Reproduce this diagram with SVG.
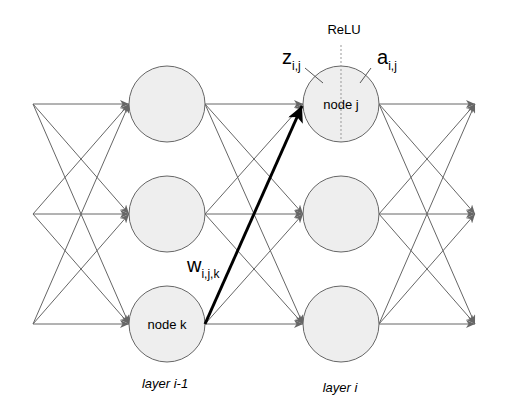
<svg xmlns="http://www.w3.org/2000/svg" width="509" height="413" viewBox="0 0 509 413">
<style>
.n{fill:#eeeeee;stroke:#666666;stroke-width:1}
.e{stroke:#666666;stroke-width:1;fill:none;marker-end:url(#ah)}
.t{font-family:"Liberation Sans",Arial,sans-serif;fill:#000}
</style>
<defs>
<marker id="ah" markerUnits="userSpaceOnUse" markerWidth="10" markerHeight="8" refX="9" refY="4" orient="auto">
<path d="M0,0 L9,4 L0,8 L2.5,4 Z" fill="#666666"/>
</marker>
<marker id="ahb" markerUnits="userSpaceOnUse" markerWidth="18" markerHeight="16" refX="16" refY="8" orient="auto">
<path d="M0,0 L16,8 L0,16 L4,8 Z" fill="#000"/>
</marker>
</defs>
<rect width="509" height="413" fill="#fff"/>
<g id="connectors">
<path class="e" d="M33,104 L129,104"/>
<path class="e" d="M33,104 L129,214"/>
<path class="e" d="M33,104 L129,324"/>
<path class="e" d="M33,214 L129,104"/>
<path class="e" d="M33,214 L129,214"/>
<path class="e" d="M33,214 L129,324"/>
<path class="e" d="M33,324 L129,104"/>
<path class="e" d="M33,324 L129,214"/>
<path class="e" d="M33,324 L129,324"/>
<path class="e" d="M205,104 L303,104"/>
<path class="e" d="M205,104 L303,214"/>
<path class="e" d="M205,104 L303,324"/>
<path class="e" d="M205,214 L303,104"/>
<path class="e" d="M205,214 L303,214"/>
<path class="e" d="M205,214 L303,324"/>
<path class="e" d="M205,324 L303,214"/>
<path class="e" d="M205,324 L303,324"/>
<path class="e" d="M379,104 L475,104"/>
<path class="e" d="M379,104 L475,214"/>
<path class="e" d="M379,104 L475,324"/>
<path class="e" d="M379,214 L475,104"/>
<path class="e" d="M379,214 L475,214"/>
<path class="e" d="M379,214 L475,324"/>
<path class="e" d="M379,324 L475,104"/>
<path class="e" d="M379,324 L475,214"/>
<path class="e" d="M379,324 L475,324"/>
</g>
<g id="layer-prev">
<g id="n1"><circle class="n" cx="167" cy="104" r="38"/></g>
<g id="n2"><circle class="n" cx="167" cy="214" r="38"/></g>
<g id="nodek"><circle class="n" cx="167" cy="324" r="38"/><text class="t" x="167" y="328.5" font-size="13" text-anchor="middle">node k</text></g>
</g>
<g id="layer-cur">
<g id="nodej"><circle class="n" cx="341" cy="104" r="38"/><text class="t" x="341" y="108.5" font-size="13" text-anchor="middle">node j</text></g>
<g id="n5"><circle class="n" cx="341" cy="214" r="38"/></g>
<g id="n6"><circle class="n" cx="341" cy="324" r="38"/></g>
</g>
<g id="relu">
<line x1="341" y1="45" x2="341" y2="142" stroke="#999999" stroke-width="1" stroke-dasharray="2,2"/>
<text class="t" x="344" y="34" font-size="13" text-anchor="middle">ReLU</text>
<line x1="305" y1="68" x2="323" y2="83" stroke="#555555" stroke-width="1"/>
<line x1="371" y1="68" x2="360" y2="83" stroke="#555555" stroke-width="1"/>
<text class="t" x="282" y="64" font-size="20">z<tspan font-size="12" dy="6">i,j</tspan></text>
<text class="t" x="377" y="64" font-size="20">a<tspan font-size="12" dy="6">i,j</tspan></text>
</g>
<g id="weight">
<path d="M205,324 L302,106" stroke="#000" stroke-width="3" fill="none" marker-end="url(#ahb)"/>
<text class="t" x="187" y="272" font-size="20">w<tspan font-size="12" dy="6">i,j,k</tspan></text>
</g>
<text class="t" x="165" y="388" font-size="13" font-style="italic" text-anchor="middle">layer i-1</text>
<text class="t" x="340" y="392" font-size="13" font-style="italic" text-anchor="middle">layer i</text>
</svg>
